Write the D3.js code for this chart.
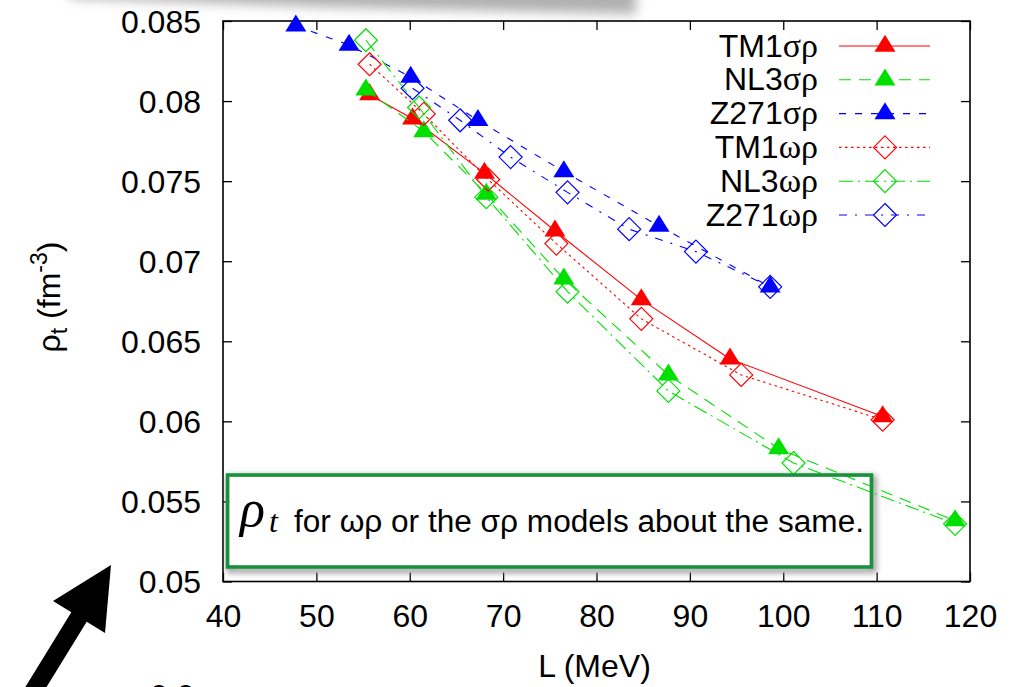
<!DOCTYPE html>
<html>
<head>
<meta charset="utf-8">
<script src="https://cdn.jsdelivr.net/npm/d3@7"></script>
<style>
  body { margin: 0; background: #fff; }
  svg { display: block; }
</style>
</head>
<body>
<svg id="chart" width="1023" height="687"></svg>
<script>
// ---- data -------------------------------------------------------------
const xTicks = [40, 50, 60, 70, 80, 90, 100, 110, 120];
const xTickLabels = ["40", "50", "60", "70", "80", "90", "100", "110", "120"];
const yTicks = [0.05, 0.055, 0.06, 0.065, 0.07, 0.075, 0.08, 0.085];
const yTickLabels = ["0.05", "0.055", "0.06", "0.065", "0.07", "0.075", "0.08", "0.085"];

const modelNames = ["TM1", "NL3", "Z271", "TM1", "NL3", "Z271"];
const couplingNames = ["σρ", "σρ", "σρ", "ωρ", "ωρ", "ωρ"];

// slope parameter L (MeV) and transition density rho_t (fm^-3)
const tm1SigmaL   = [55.7, 60.3, 68.0, 75.55, 84.8, 94.3, 110.65];
const tm1SigmaRho = [0.0804, 0.0789, 0.0755, 0.0719, 0.0676, 0.0639, 0.0603];
const nl3SigmaL   = [55.3, 61.5, 68.2, 76.5, 87.7, 99.5, 118.4];
const nl3SigmaRho = [0.0807, 0.0781, 0.0742, 0.0689, 0.0629, 0.0583, 0.0538];
const z271SigmaL   = [47.8, 53.5, 60.1, 67.3, 76.5, 86.7, 98.6];
const z271SigmaRho = [0.0847, 0.0835, 0.0815, 0.0788, 0.0756, 0.0722, 0.0684];
const tm1OmegaL   = [55.7, 61.5, 68.4, 75.7, 84.8, 95.5, 110.65];
const tm1OmegaRho = [0.0823, 0.0792, 0.0751, 0.0711, 0.0664, 0.0629, 0.0601];
const nl3OmegaL   = [55.3, 61.0, 68.2, 76.9, 87.7, 101.1, 118.4];
const nl3OmegaRho = [0.0838, 0.0796, 0.0740, 0.0681, 0.0619, 0.0574, 0.0536];
const z271OmegaL   = [60.3, 65.4, 70.8, 76.9, 83.5, 90.65, 98.6];
const z271OmegaRho = [0.0808, 0.0788, 0.0765, 0.0743, 0.0720, 0.0706, 0.0684];

const seriesL   = [tm1SigmaL, nl3SigmaL, z271SigmaL, tm1OmegaL, nl3OmegaL, z271OmegaL];
const seriesRho = [tm1SigmaRho, nl3SigmaRho, z271SigmaRho, tm1OmegaRho, nl3OmegaRho, z271OmegaRho];

const noteText = "for ωρ or the σρ models about the same.";

// ---- styles -----------------------------------------------------------
const colors  = ["#ff0000", "#00e000", "#0000ff", "#ff0000", "#00e000", "#0000ff"];
const dashes  = [null, "12,8", "7,9", "2.5,3.5", "14,5,2,5", "8,8,2,8"];
const markers = ["tri", "tri", "tri", "dia", "dia", "dia"];

const svg = d3.select("#chart");
const FONT = "'Liberation Sans', Arial, Helvetica, sans-serif";
const SERIF = "'Liberation Serif', 'Times New Roman', serif";

const x = d3.scaleLinear().domain([40, 120]).range([223, 970]);
const y = d3.scaleLinear().domain([0.05, 0.085]).range([581.5, 21]);

const defs = svg.append("defs");
defs.append("filter").attr("id", "blurTop").attr("x", "-20%").attr("y", "-200%")
  .attr("width", "140%").attr("height", "500%")
  .append("feGaussianBlur").attr("stdDeviation", 6);
defs.append("filter").attr("id", "blurBox").attr("x", "-10%").attr("y", "-30%")
  .attr("width", "120%").attr("height", "160%")
  .append("feGaussianBlur").attr("stdDeviation", 3);

// soft shadow of a panel above the plot
svg.append("path")
  .attr("d", "M70,-30 L636,-30 L636,14 L330,7 L70,-2 Z")
  .attr("fill", "#b0b0b0")
  .attr("filter", "url(#blurTop)");

// ---- axes -------------------------------------------------------------
const axisG = svg.append("g");
axisG.append("g").attr("transform", `translate(0,${y(0.05)})`)
  .call(d3.axisBottom(x).tickValues(xTicks).tickSize(-9).tickFormat((d, i) => xTickLabels[i]))
  .call(g => g.select(".domain").remove());
axisG.append("g").attr("transform", `translate(0,${y(0.085)})`)
  .call(d3.axisTop(x).tickValues(xTicks).tickSize(-9).tickFormat(""))
  .call(g => g.select(".domain").remove());
axisG.append("g").attr("transform", `translate(${x(40)},0)`)
  .call(d3.axisLeft(y).tickValues(yTicks).tickSize(-9).tickFormat((d, i) => yTickLabels[i]))
  .call(g => g.select(".domain").remove());
axisG.append("g").attr("transform", `translate(${x(120)},0)`)
  .call(d3.axisRight(y).tickValues(yTicks).tickSize(-9).tickFormat(""))
  .call(g => g.select(".domain").remove());

axisG.selectAll(".tick line").attr("stroke", "#000").attr("stroke-width", 1.3);
axisG.selectAll(".tick text").attr("font-family", FONT).attr("font-size", 32).attr("fill", "#000");
// x labels sit below the frame, y labels to its left
svg.selectAll(".tick text").each(function () {
  const t = d3.select(this);
  if (t.attr("x") !== null && +t.attr("x") < 0) {          // left axis labels
    t.attr("x", -22).attr("dy", null).attr("y", 11).attr("text-anchor", "end");
  } else if (t.attr("y") !== null && +t.attr("y") > 0) {  // bottom axis labels
    t.attr("y", 45.5).attr("dy", null).attr("text-anchor", "middle");
  }
});

svg.append("rect")
  .attr("x", x(40)).attr("y", y(0.085))
  .attr("width", x(120) - x(40)).attr("height", y(0.05) - y(0.085))
  .attr("fill", "none").attr("stroke", "#000").attr("stroke-width", 1.6);

// axis titles
svg.append("text")
  .attr("x", (x(40) + x(120)) / 2 - 2).attr("y", 677)
  .attr("text-anchor", "middle").attr("font-family", FONT).attr("font-size", 32)
  .text("L (MeV)");

const yl = svg.append("text")
  .attr("transform", "translate(60,297) rotate(-90)")
  .attr("text-anchor", "middle").attr("font-family", FONT).attr("font-size", 32);
yl.append("tspan").text("ρ");
yl.append("tspan").attr("font-size", 23).attr("dy", 7).text("t");
yl.append("tspan").attr("dy", -7).text(" (fm");
yl.append("tspan").attr("font-size", 23).attr("dy", -13).text("-3");
yl.append("tspan").attr("dy", 13).text(")");

// ---- annotation box (fill and shadow under the curves) ----------------
const box = { x0: 227.5, y0: 475, x1: 871.5, y1: 567 };
svg.append("rect")
  .attr("x", box.x0 + 2).attr("y", box.y0 + 3)
  .attr("width", box.x1 - box.x0).attr("height", box.y1 - box.y0)
  .attr("fill", "none").attr("stroke", "#888").attr("stroke-width", 5)
  .attr("filter", "url(#blurBox)");
svg.append("rect")
  .attr("x", box.x0 + 2).attr("y", box.y0 + 2)
  .attr("width", box.x1 - box.x0 - 4).attr("height", box.y1 - box.y0 - 4)
  .attr("fill", "#fff");

// ---- series -----------------------------------------------------------
const triPath = "M0,-11.3 L10.5,5.7 L-10.5,5.7 Z";
const diaPath = "M0,-11.5 L11.5,0 L0,11.5 L-11.5,0 Z";
function drawMarker(g, kind, color) {
  if (kind === "tri") {
    g.append("path").attr("d", triPath).attr("fill", color);
  } else {
    g.append("path").attr("d", diaPath).attr("fill", "none")
      .attr("stroke", color).attr("stroke-width", 1.2);
  }
}

const line = d3.line().x(d => x(d[0])).y(d => y(d[1]));
seriesL.forEach((Ls, i) => {
  const pts = Ls.map((L, j) => [L, seriesRho[i][j]]);
  const g = svg.append("g");
  g.append("path").datum(pts).attr("d", line)
    .attr("fill", "none").attr("stroke", colors[i]).attr("stroke-width", 1.1)
    .attr("stroke-dasharray", dashes[i]);
  g.selectAll("g.pt").data(pts).join("g").attr("class", "pt")
    .attr("transform", d => `translate(${x(d[0])},${y(d[1])})`)
    .each(function () { drawMarker(d3.select(this), markers[i], colors[i]); });
});

// ---- legend -----------------------------------------------------------
const legend = svg.append("g");
modelNames.forEach((m, i) => {
  const ly = 46 + i * 33.8;
  const t = legend.append("text")
    .attr("x", 818).attr("y", ly + 10.5).attr("text-anchor", "end")
    .attr("font-family", FONT).attr("font-size", 32);
  t.append("tspan").text(m);
  t.append("tspan").attr("font-family", SERIF).attr("font-size", 34).text(couplingNames[i]);
  legend.append("line").attr("x1", 839).attr("x2", 930).attr("y1", ly).attr("y2", ly)
    .attr("stroke", colors[i]).attr("stroke-width", 1.1).attr("stroke-dasharray", dashes[i]);
  drawMarker(legend.append("g").attr("transform", `translate(885,${ly})`), markers[i], colors[i]);
});

// ---- annotation border and text ---------------------------------------
svg.append("rect")
  .attr("x", box.x0).attr("y", box.y0)
  .attr("width", box.x1 - box.x0).attr("height", box.y1 - box.y0)
  .attr("fill", "none").attr("stroke", "#16923a").attr("stroke-width", 3.5);

const math = svg.append("text").attr("y", 526)
  .attr("font-family", SERIF).attr("font-style", "italic");
math.append("tspan").attr("x", 240).attr("font-size", 52).text("ρ");
math.append("tspan").attr("x", 269).attr("font-size", 32).attr("dy", 6).text("t");

svg.append("text").attr("x", 294).attr("y", 532)
  .attr("font-family", FONT).attr("font-size", 31)
  .attr("textLength", 570).attr("lengthAdjust", "spacingAndGlyphs")
  .text(noteText);

// ---- arrow pointing at the plot ---------------------------------------
svg.append("path")
  .attr("d", "M111,565 L105,633 L86.7,621.7 L34.3,706.9 L18.9,697.5 L71.3,612.3 L53,601 Z")
  .attr("fill", "#000");

// label of a panel below, only its top edge inside the page
svg.append("text").attr("x", 150).attr("y", 707)
  .attr("font-family", FONT).attr("font-size", 32).text("0.0");
</script>
</body>
</html>
